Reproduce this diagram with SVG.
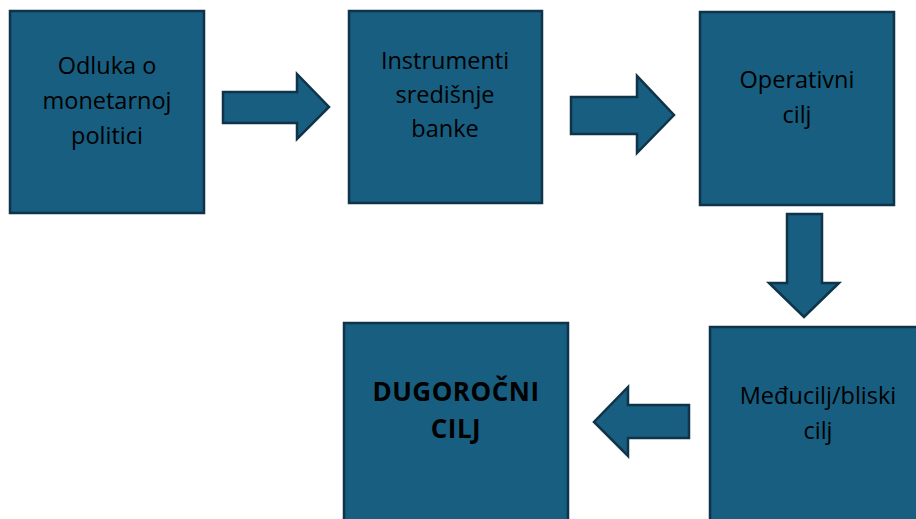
<svg xmlns="http://www.w3.org/2000/svg" width="916" height="519" viewBox="0 0 916 519">
<style>
.box{fill:#175e80;stroke:#0f3348;stroke-width:2.5}
.arr{fill:#175e80;stroke:#0f3348;stroke-width:2.5;stroke-linejoin:miter}
.t{font-family:"Open Sans","Liberation Sans",sans-serif;font-size:23.5px;fill:#000;text-anchor:middle}
.b{font-weight:bold;font-size:26px;letter-spacing:0.5px}
</style>
<rect width="916" height="519" fill="#fff"/>
<g id="n1"><rect class="box" x="10" y="11" width="194" height="202"/>
<text class="t" x="107" y="74">Odluka o</text><text class="t" x="107" y="109">monetarnoj</text><text class="t" x="107" y="144">politici</text></g>
<g id="n2"><rect class="box" x="349" y="11" width="193" height="192"/>
<text class="t" x="445" y="69">Instrumenti</text><text class="t" x="445" y="103">središnje</text><text class="t" x="445" y="137">banke</text></g>
<g id="n3"><rect class="box" x="700" y="12" width="194" height="193"/>
<text class="t" x="797" y="88">Operativni</text><text class="t" x="797" y="123">cilj</text></g>
<g id="n4"><rect class="box" x="710" y="327" width="220" height="210"/>
<text class="t" x="818" y="404">Međucilj/bliski</text><text class="t" x="818" y="439">cilj</text></g>
<g id="n5"><rect class="box" x="344" y="323" width="224" height="210"/>
<text class="t b" x="456" y="401">DUGOROČNI</text><text class="t b" x="456" y="438">CILJ</text></g>
<g id="connectors">
<polygon class="arr" points="223,92 297,92 297,74 329,107 297,139 297,123 223,123"/>
<polygon class="arr" points="571,97 637,97 637,76 674,115 637,153 637,134 571,134"/>
<polygon class="arr" points="787,214 822,214 822,283 839,283 804,317 769,283 787,283"/>
<polygon class="arr" points="689,405 628,405 628,387 594,422 628,456 628,438 689,438"/>
</g>
</svg>
